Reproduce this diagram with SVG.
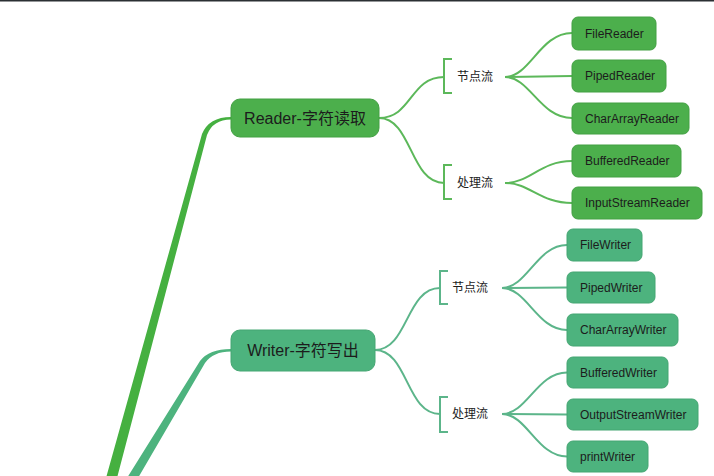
<svg xmlns="http://www.w3.org/2000/svg" width="714" height="476" viewBox="0 0 714 476">
<style>
.rn{fill:#4caf4c;stroke:#43a043;stroke-width:1}
.wn{fill:#4db37e;stroke:#45a673;stroke-width:1}
.main{font-family:"Liberation Sans","Noto Sans CJK SC",sans-serif;font-size:16px;fill:#1c1c1c;text-anchor:middle}
.leaf{font-family:"Liberation Sans","Noto Sans CJK SC",sans-serif;font-size:12px;fill:#1c1c1c}
.mid{font-family:"Liberation Sans","Noto Sans CJK SC",sans-serif;font-size:12px;fill:#1c1c1c;text-anchor:middle}
.rc{fill:none;stroke:#5cb85a;stroke-width:2}
.wc{fill:none;stroke:#5cb58a;stroke-width:2}
</style>
<rect x="0" y="0" width="714" height="476" fill="#ffffff"/>
<rect x="0" y="0" width="714" height="1.5" fill="#2b2f33"/>
<g id="connectors">
  <path d="M106 478 L202 134 Q209 117 231 117 L231 119.5 Q213 119.5 207 135 L117 478 Z" fill="#45b040"/>
  <path d="M127 478 L200 361 Q209 349 231 349 L231 351.5 Q213 351.5 205 363 L138 478 Z" fill="#4db37e"/>
  <path class="rc" d="M379 118 C412 118 410 77 444 77"/>
  <path class="rc" d="M379 118 C412 118 410 183 444 183"/>
  <path class="rc" d="M452 59 L444 59 L444 93 L452 93"/>
  <path class="rc" d="M452 165 L444 165 L444 199 L452 199"/>
  <path class="rc" d="M505 77 C530 77 540 33 572 33"/>
  <path class="rc" d="M505 77 L572 76"/>
  <path class="rc" d="M505 77 C530 77 540 118 572 118"/>
  <path class="rc" d="M505 183 C530 183 540 161 572 161"/>
  <path class="rc" d="M505 183 C530 183 540 203 572 203"/>
  <path class="wc" d="M375 350 C408 350 406 288 440 288"/>
  <path class="wc" d="M375 350 C408 350 406 414 440 414"/>
  <path class="wc" d="M448 271 L440 271 L440 304 L448 304"/>
  <path class="wc" d="M448 397 L440 397 L440 432 L448 432"/>
  <path class="wc" d="M502 288 C527 288 537 245 567 245"/>
  <path class="wc" d="M502 288 L567 287.5"/>
  <path class="wc" d="M502 288 C527 288 537 330 567 330"/>
  <path class="wc" d="M502 414 C527 414 537 372.5 567 372.5"/>
  <path class="wc" d="M502 414 L567 414.5"/>
  <path class="wc" d="M502 414 C527 414 537 456.5 567 456.5"/>
</g>
<g id="reader">
  <rect class="rn" x="231" y="99" width="148" height="38" rx="9"/>
  <text class="main" x="305" y="124">Reader-字符读取</text>
</g>
<g id="writer">
  <rect class="wn" x="231" y="330" width="144" height="41" rx="9"/>
  <text class="main" x="303" y="356">Writer-字符写出</text>
</g>
<g id="r-node"><text class="mid" x="475" y="81">节点流</text></g>
<g id="r-proc"><text class="mid" x="475" y="187">处理流</text></g>
<g id="w-node"><text class="mid" x="470" y="292">节点流</text></g>
<g id="w-proc"><text class="mid" x="470" y="418">处理流</text></g>
<g id="FileReader"><rect class="rn" x="572" y="17" width="84" height="33" rx="6"/><text class="leaf" x="585" y="37.5">FileReader</text></g>
<g id="PipedReader"><rect class="rn" x="572" y="60" width="94" height="32" rx="6"/><text class="leaf" x="585" y="80">PipedReader</text></g>
<g id="CharArrayReader"><rect class="rn" x="572" y="103" width="117" height="31" rx="6"/><text class="leaf" x="585" y="122.5">CharArrayReader</text></g>
<g id="BufferedReader"><rect class="rn" x="572" y="145" width="109" height="32" rx="6"/><text class="leaf" x="585" y="165">BufferedReader</text></g>
<g id="InputStreamReader"><rect class="rn" x="572" y="187" width="130" height="32" rx="6"/><text class="leaf" x="585" y="207">InputStreamReader</text></g>
<g id="FileWriter"><rect class="wn" x="567" y="229" width="75" height="32" rx="6"/><text class="leaf" x="580" y="249">FileWriter</text></g>
<g id="PipedWriter"><rect class="wn" x="567" y="272" width="88" height="31" rx="6"/><text class="leaf" x="580" y="291.5">PipedWriter</text></g>
<g id="CharArrayWriter"><rect class="wn" x="567" y="314" width="111" height="32" rx="6"/><text class="leaf" x="580" y="334">CharArrayWriter</text></g>
<g id="BufferedWriter"><rect class="wn" x="567" y="357" width="101" height="31" rx="6"/><text class="leaf" x="580" y="376.5">BufferedWriter</text></g>
<g id="OutputStreamWriter"><rect class="wn" x="567" y="399" width="131" height="31" rx="6"/><text class="leaf" x="580" y="418.5">OutputStreamWriter</text></g>
<g id="printWriter"><rect class="wn" x="567" y="441" width="81" height="31" rx="6"/><text class="leaf" x="580" y="460.5">printWriter</text></g>
</svg>
